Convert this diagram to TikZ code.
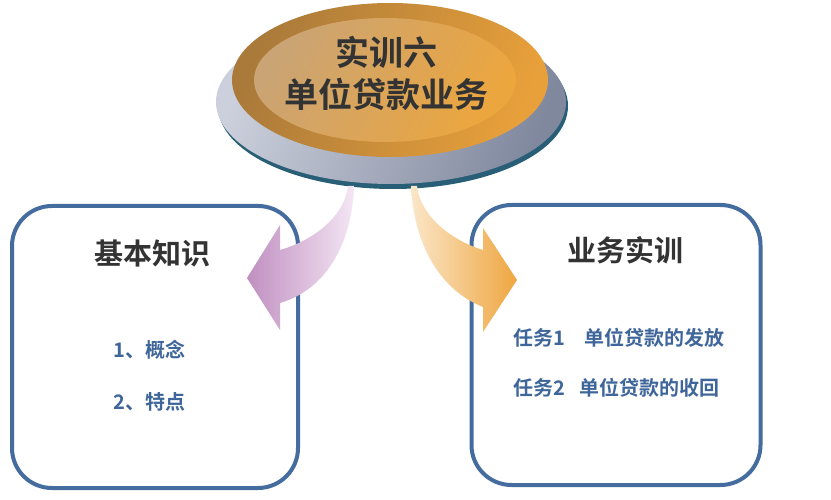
\documentclass[tikz,border=0pt]{standalone}
\usepackage{fontspec}
\setmainfont{Noto Sans CJK SC}[BoldFont={Noto Sans CJK SC Bold}]
\usepackage{xcolor}
\usetikzlibrary{positioning}
\definecolor{boxblue}{RGB}{68,108,158}
\definecolor{itemblue}{RGB}{63,102,154}
\definecolor{titlegray}{RGB}{51,51,51}
\definecolor{rimteal}{RGB}{40,94,118}
\definecolor{disclight}{RGB}{204,208,220}
\definecolor{discdark}{RGB}{128,136,158}
\tikzset{
  kbox/.style={draw=boxblue,line width=4pt,rounded corners=40pt,inner sep=0pt},
  ktitle/.style={text=titlegray,font=\bfseries\fontsize{29}{32}\selectfont},
  kitem/.style={text=itemblue,anchor=west,inner sep=0pt,font=\bfseries\fontsize{20}{24}\selectfont},
  kmain/.style={text=titlegray,align=center,font=\bfseries\fontsize{34}{42}\selectfont}
}

\begin{document}
\begin{tikzpicture}[x=1pt,y=-1pt]
  \fill[white] (0,0) rectangle (831,500);
  \useasboundingbox (0,0) rectangle (831,500);
  % base disc and gold top
  \fill[rimteal] (393,106) ellipse [x radius=175,y radius=83];
  \shade[left color=disclight,right color=discdark,shading angle=70]
    (391,102) ellipse [x radius=175,y radius=82];
  \shade[left color={rgb,255:red,170;green,122;blue,58},right color={rgb,255:red,232;green,160;blue,58},shading angle=70]
    (390,80) ellipse [x radius=158,y radius=77];
  \shade[left color={rgb,255:red,202;green,164;blue,116},right color={rgb,255:red,236;green,166;blue,62},shading angle=60]
    (385,80) ellipse [x radius=131,y radius=62];
  \node[kmain] (topic) at (386,73) {实训六\\单位贷款业务};
  % the two boxes
  \node[kbox,minimum width=286,minimum height=282] (basics) at (155,347) {};
  \node[kbox,minimum width=289,minimum height=280] (practice) at (616,345) {};
  \node[ktitle] (basicstitle) at (152,253) {基本知识};
  \node[ktitle] (practicetitle) at (625,250) {业务实训};
  \node[kitem] (concept) at (113,350) {1、概念};
  \node[kitem] (feature) at ([yshift=-52pt]concept.west) {2、特点};
  \node[kitem] (taskone) at (513,338) {任务1\hspace{19pt}单位贷款的发放};
  \node[kitem] (tasktwo) at ([yshift=-50pt]taskone.west) {任务2\hspace{14pt}单位贷款的收回};
  % curved arrows
  \shade[left color={rgb,255:red,192;green,143;blue,192},right color={rgb,255:red,244;green,230;blue,244}]
    (348,186) .. controls (345,215) and (315,240) .. (280,250)
    -- (280,225) -- (247,278) -- (280,330) -- (280,303)
    .. controls (325,290) and (352,245) .. (354,186) -- cycle;
  \shade[left color={rgb,255:red,251;green,230;blue,200},right color={rgb,255:red,238;green,166;blue,64}]
    (411,186) .. controls (414,245) and (440,290) .. (483,307)
    -- (483,332) -- (517,280) -- (483,228) -- (483,250)
    .. controls (450,240) and (420,215) .. (417,186) -- cycle;
\end{tikzpicture}
\end{document}
